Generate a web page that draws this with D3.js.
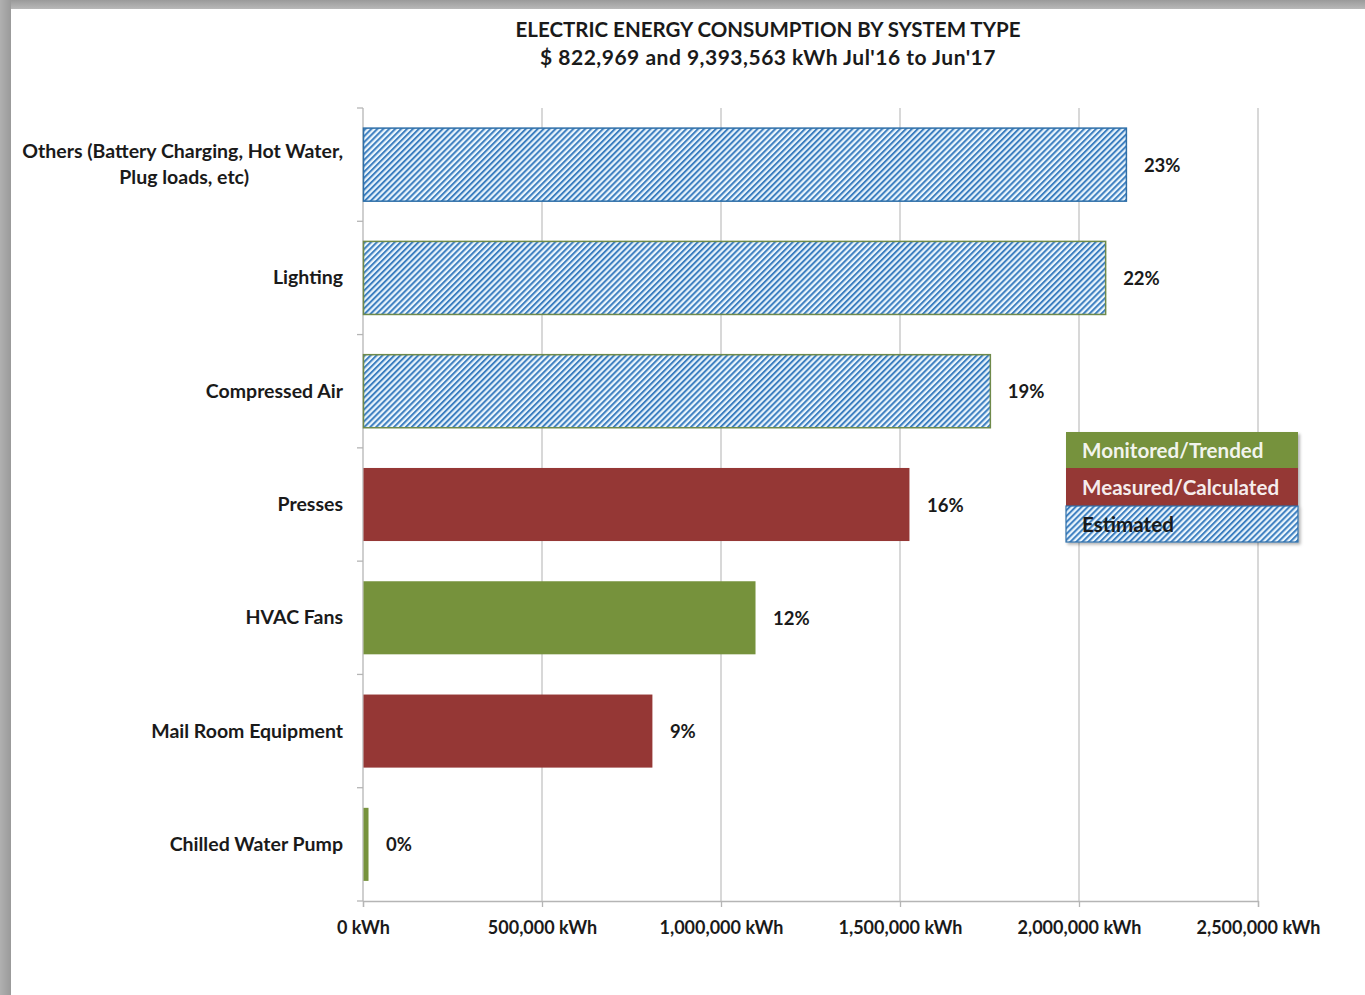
<!DOCTYPE html>
<html><head><meta charset="utf-8">
<script src="https://cdn.jsdelivr.net/npm/d3@7/dist/d3.min.js"></script>
<style>body{margin:0;background:#fff;}svg{display:block;font-family:Lato,"Open Sans",sans-serif;}</style>
</head><body>
<svg id="c" width="1365" height="995"></svg>
<script>
const categories = ["Others (Battery Charging, Hot Water,|Plug loads, etc)","Lighting","Compressed Air","Presses","HVAC Fans","Mail Room Equipment","Chilled Water Pump"];
const values = [2131000, 2073000, 1751000, 1525000, 1095000, 807000, 14000];
const percents = ["23%","22%","19%","16%","12%","9%","0%"];
const types = ["Estimated","Estimated","Estimated","Measured/Calculated","Monitored/Trended","Measured/Calculated","Monitored/Trended"];
const tickValues = [0, 500000, 1000000, 1500000, 2000000, 2500000];
const legendItems = ["Monitored/Trended","Measured/Calculated","Estimated"];
const titleLines = ["ELECTRIC ENERGY CONSUMPTION BY SYSTEM TYPE","$ 822,969 and 9,393,563 kWh Jul'16 to Jun'17"];

(function(){
const svg = d3.select("#c");
const defs = svg.append("defs");
const pat = defs.append("pattern").attr("id","hatch").attr("patternUnits","userSpaceOnUse")
  .attr("width",4.2).attr("height",4.2).attr("patternTransform","rotate(45)");
pat.append("rect").attr("width",4.2).attr("height",4.2).attr("fill","#eaf5fc");
pat.append("rect").attr("width",2).attr("height",4.2).attr("fill","#3d7fc0");
const sg = defs.append("linearGradient").attr("id","gTop").attr("x1",0).attr("y1",0).attr("x2",0).attr("y2",1);
sg.append("stop").attr("offset","0").attr("stop-color","#9a9a9a");
sg.append("stop").attr("offset","1").attr("stop-color","#b8b8b8");
const sl = defs.append("linearGradient").attr("id","gLeft").attr("x1",0).attr("y1",0).attr("x2",1).attr("y2",0);
sl.append("stop").attr("offset","0").attr("stop-color","#b0b0b0");
sl.append("stop").attr("offset","1").attr("stop-color","#9a9a9a");
const flt = defs.append("filter").attr("id","sh").attr("x","-10%").attr("y","-10%").attr("width","130%").attr("height","140%");
flt.append("feDropShadow").attr("dx",2).attr("dy",2).attr("stdDeviation",1.5).attr("flood-color","#000").attr("flood-opacity",0.3);

// frame
svg.append("rect").attr("x",0).attr("y",0).attr("width",1365).attr("height",9).attr("fill","url(#gTop)");
svg.append("rect").attr("x",0).attr("y",0).attr("width",11).attr("height",995).attr("fill","url(#gLeft)");

const fills = {"Monitored/Trended":"#76923c","Measured/Calculated":"#953735","Estimated":"url(#hatch)"};
const strokes = {"Monitored/Trended":"#76923c","Measured/Calculated":"#953735","Estimated":"#6f8a4a"};

const x = d3.scaleLinear().domain([0,2500000]).range([363,1258]);
const y = d3.scaleBand().domain(categories).range([108,901]).paddingInner(0.355).paddingOuter(0.1775);
const plotTop = 108, plotBottom = 901;

// gridlines
svg.append("g").selectAll("line").data(tickValues.slice(1)).join("line")
  .attr("x1",d=>x(d)).attr("x2",d=>x(d)).attr("y1",plotTop).attr("y2",plotBottom)
  .attr("stroke","#c3c3c3").attr("stroke-width",1.3);

// x axis
const xAxis = d3.axisBottom(x).tickValues(tickValues).tickSize(6).tickPadding(14)
  .tickFormat(d=>d3.format(",")(d)+" kWh");
const gx = svg.append("g").attr("transform",`translate(0,${plotBottom})`).call(xAxis);
gx.select(".domain").attr("stroke","#b5b5b5").attr("stroke-width",1.3);
gx.selectAll(".tick line").attr("stroke","#b5b5b5").attr("stroke-width",1.3);
gx.selectAll("text").attr("font-size",18).attr("font-weight","bold").attr("fill","#1a1a1a")
  .attr("font-family","Lato, sans-serif");

// y axis line and ticks at band boundaries
const step = y.step();
const bounds = d3.range(categories.length+1).map(i=>plotTop + i*step);
svg.append("line").attr("x1",363).attr("x2",363).attr("y1",plotTop).attr("y2",plotBottom).attr("stroke","#b5b5b5").attr("stroke-width",1.3);
svg.append("g").selectAll("line").data(bounds).join("line")
  .attr("x1",357).attr("x2",363).attr("y1",d=>d).attr("y2",d=>d).attr("stroke","#b5b5b5").attr("stroke-width",1.3);

// bars
const data = categories.map((c,i)=>({c,v:values[i],p:percents[i],t:types[i],i}));
svg.append("g").selectAll("rect").data(data).join("rect")
  .attr("x",x(0)+0.5).attr("y",d=>y(d.c)).attr("width",d=>x(d.v)-x(0)).attr("height",y.bandwidth())
  .attr("fill",d=>fills[d.t])
  .attr("stroke",d=>d.i===0?"#2f6fa8":strokes[d.t]).attr("stroke-width",d=>d.t==="Estimated"?1.5:0);

// value labels
svg.append("g").selectAll("text").data(data).join("text")
  .attr("x",d=>x(d.v)+18).attr("y",d=>y(d.c)+y.bandwidth()/2+7)
  .attr("font-size",18.5).attr("font-weight","bold").attr("fill","#1a1a1a").text(d=>d.p);

// category labels
const cl = svg.append("g").selectAll("text").data(data).join("text")
  .attr("x",343).attr("text-anchor","end").attr("font-size",19.5).attr("font-weight","bold").attr("fill","#1a1a1a");
cl.each(function(d){
  const lines = d.c.split("|");
  const cy = y(d.c)+y.bandwidth()/2;
  const t = d3.select(this);
  lines.forEach((l,k)=>{
    t.append("tspan").attr("x", lines.length>1 && k===1 ? 249 : 343).attr("y", cy+6.5+(k-(lines.length-1)/2)*26).text(l);
  });
});

// title
svg.append("g").selectAll("text").data(titleLines).join("text")
  .attr("x",768).attr("y",(d,i)=>37+i*28).attr("text-anchor","middle")
  .attr("font-size",(d,i)=>i===0?20.5:21).attr("letter-spacing",(d,i)=>i===0?0:0.5)
  .attr("font-weight","bold").attr("fill","#1a1a1a").text(d=>d);

// legend
const lg = svg.append("g").attr("transform","translate(1066,432)").attr("filter","url(#sh)");
const rowH = [36,38,36];
let yy = 0;
legendItems.forEach((it,i)=>{
  lg.append("rect").attr("x",0).attr("y",yy).attr("width",232).attr("height",rowH[i])
    .attr("fill",fills[it]).attr("stroke",it==="Estimated"?"#2f6fa8":"none").attr("stroke-width",1.2);
  yy += rowH[i];
});
yy = 0;
const lt = svg.append("g").attr("transform","translate(1066,432)");
legendItems.forEach((it,i)=>{
  lt.append("text").attr("x",16).attr("y",yy+rowH[i]/2+8).attr("font-size",20.6).attr("font-weight","bold")
    .attr("fill",it==="Estimated"?"#1a1a1a":"#ffffff").attr("fill-opacity",it==="Estimated"?1:0.92).text(it);
  yy += rowH[i];
});
})();
</script>
</body></html>
